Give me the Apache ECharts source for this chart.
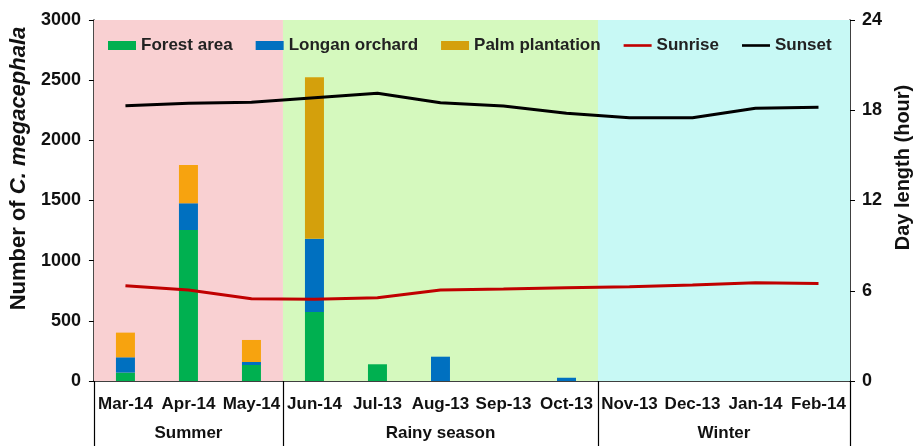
<!DOCTYPE html>
<html>
<head>
<meta charset="utf-8">
<script src="https://cdn.jsdelivr.net/npm/echarts@6/dist/echarts.min.js"></script>
<style>
  html, body { margin: 0; padding: 0; background: #fff; }
  #chart { width: 921px; height: 446px; }
</style>
</head>
<body>
<div id="chart"></div>
<script>
// data
const months = ['Mar-14', 'Apr-14', 'May-14', 'Jun-14', 'Jul-13', 'Aug-13', 'Sep-13', 'Oct-13', 'Nov-13', 'Dec-13', 'Jan-14', 'Feb-14'];
const forest = [70, 1255, 133, 573, 139, 0, 0, 0, 0, 0, 0, 0];
const longan = [127, 222, 25, 610, 0, 202, 0, 27, 0, 0, 0, 0];
const palm = [205, 318, 183, 1341, 0, 0, 0, 0, 0, 0, 0, 0];
const sunrise = [6.34, 6.05, 5.47, 5.43, 5.54, 6.05, 6.12, 6.2, 6.27, 6.38, 6.53, 6.49];
const sunset = [18.3, 18.46, 18.53, 18.83, 19.13, 18.5, 18.28, 17.8, 17.5, 17.5, 18.13, 18.2];
const seasons = ['Summer', 'Rainy season', 'Winter'];
const seasonStart = [0, 3, 8];
const seasonEnd = [3, 8, 12];

const seasonColors = ['#F9D0D2', '#D5F9BE', '#C8F9F5'];
const palmColors = ['#F7A30F', '#F7A30F', '#F7A30F', '#D4A00C'];

const font = 'Arial, "Liberation Sans", sans-serif';
const narrow = '"Liberation Sans Narrow", Arial, sans-serif';
const lineIcon = 'path://M0,0 L32,0 L32,3 L0,3 Z';

const myChart = echarts.init(document.getElementById('chart'));

const option = {
  animation: false,
  textStyle: { fontFamily: font },
  grid: { left: 91, right: 68, top: 20, bottom: 65 },
  legend: {
    top: 32,
    left: 103,
    itemGap: 23,
    itemWidth: 28,
    itemHeight: 9,
    textStyle: { fontSize: 17, fontWeight: 'bold', color: '#222', fontFamily: font },
    data: [
      { name: 'Forest area', icon: 'rect' },
      { name: 'Longan orchard', icon: 'rect' },
      { name: 'Palm plantation', icon: 'rect' },
      { name: 'Sunrise', icon: lineIcon },
      { name: 'Sunset', icon: lineIcon }
    ]
  },
  xAxis: [
    {
      type: 'category',
      data: months,
      axisLine: { lineStyle: { color: '#000', width: 1.5 } },
      axisTick: { interval: 0, length: 33, lineStyle: { color: '#000', width: 1.2 } },
      axisLabel: {
        interval: 0, margin: 15, color: '#111',
        fontSize: 17, fontWeight: 'bold', fontFamily: narrow
      }
    },
    {
      type: 'value',
      position: 'bottom',
      min: 0,
      max: 12,
      axisLine: { show: false },
      splitLine: { show: false },
      axisTick: {
        show: true, length: 65, inside: false,
        customValues: [0, 3, 8, 12],
        lineStyle: { color: '#000', width: 1.2 }
      },
      axisLabel: {
        customValues: [1.5, 5.5, 10],
        margin: 44,
        color: '#111', fontSize: 17, fontWeight: 'bold', fontFamily: narrow,
        formatter: function (v) {
          if (v === 1.5) return seasons[0];
          if (v === 5.5) return seasons[1];
          if (v === 10) return seasons[2];
          return '';
        }
      }
    }
  ],
  yAxis: [
    {
      type: 'value',
      min: 0, max: 3000, interval: 500,
      splitLine: { show: false },
      axisLine: { show: true, lineStyle: { color: '#000', width: 1.5 } },
      axisTick: { show: true, length: 5, lineStyle: { color: '#000' } },
      axisLabel: {
        color: '#111', fontSize: 18, fontWeight: 'bold', margin: 13,
        formatter: v => String(v)
      },
      name: '{a|Number of }{b|C. megacephala}',
      nameLocation: 'middle',
      nameGap: 63,
      nameTextStyle: {
        padding: [0, 0, 0, 64],
        rich: {
          a: { fontSize: 22, fontWeight: 'bold', color: '#111', fontFamily: font },
          b: { fontSize: 22, fontWeight: 'bold', fontStyle: 'italic', color: '#111', fontFamily: font }
        }
      }
    },
    {
      type: 'value',
      min: 0, max: 24, interval: 6,
      position: 'right',
      splitLine: { show: false },
      axisLine: { show: true, lineStyle: { color: '#000', width: 1.5 } },
      axisTick: { show: true, length: 5, lineStyle: { color: '#000' } },
      axisLabel: { color: '#111', fontSize: 18, fontWeight: 'bold', margin: 12 },
      name: 'Day length (hour)',
      nameLocation: 'middle',
      nameGap: 43,
      nameRotate: 90,
      nameTextStyle: { fontSize: 20, fontWeight: 'bold', color: '#111', padding: [0, 0, 0, 66] }
    }
  ],
  series: [
    {
      name: 'seasons',
      type: 'line',
      xAxisIndex: 1,
      yAxisIndex: 0,
      data: [],
      silent: true,
      z: 0,
      markArea: {
        silent: true,
        data: seasons.map((s, i) => [
          { xAxis: seasonStart[i], itemStyle: { color: seasonColors[i] } },
          { xAxis: seasonEnd[i] }
        ])
      }
    },
    {
      name: 'Forest area', type: 'bar', stack: 'n', barWidth: 19,
      itemStyle: { color: '#00B050' }, data: forest
    },
    {
      name: 'Longan orchard', type: 'bar', stack: 'n', barWidth: 19,
      itemStyle: { color: '#0070C0' }, data: longan
    },
    {
      name: 'Palm plantation', type: 'bar', stack: 'n', barWidth: 19,
      itemStyle: { color: '#D4A00C' },
      data: palm.map((v, i) => ({
        value: v,
        itemStyle: { color: palmColors[i] || '#D4A00C' }
      }))
    },
    {
      name: 'Sunrise', type: 'line', yAxisIndex: 1, showSymbol: false, symbol: 'none',
      lineStyle: { color: '#C00000', width: 3 }, itemStyle: { color: '#C00000' },
      data: sunrise, z: 3
    },
    {
      name: 'Sunset', type: 'line', yAxisIndex: 1, showSymbol: false, symbol: 'none',
      lineStyle: { color: '#000', width: 3 }, itemStyle: { color: '#000' },
      data: sunset, z: 3
    }
  ]
};

myChart.setOption(option);
</script>
</body>
</html>
